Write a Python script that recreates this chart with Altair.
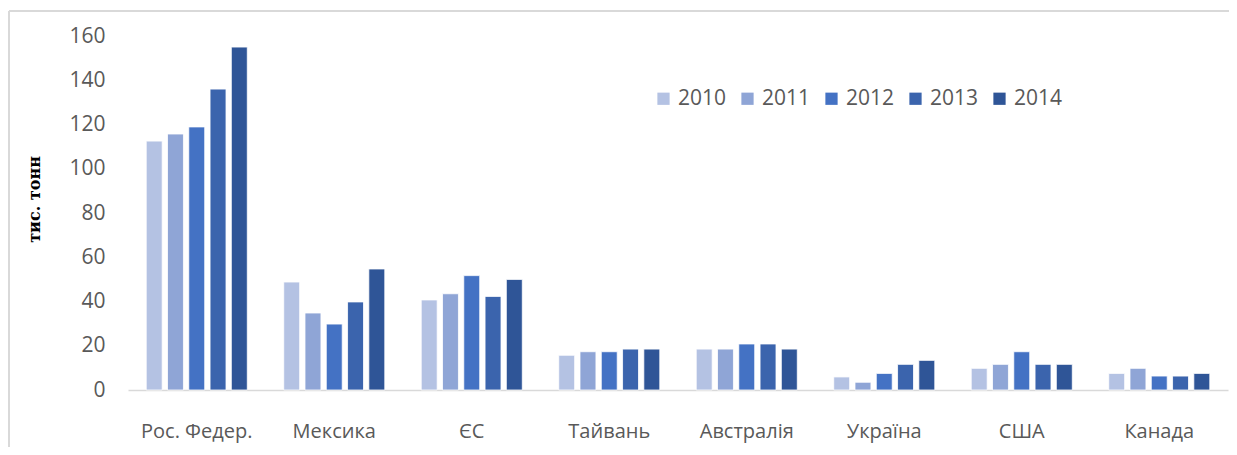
import altair as alt
import pandas as pd

countries = ["Рос. Федер.", "Мексика", "ЄС", "Тайвань", "Австралія", "Україна", "США", "Канада"]
years = ["2010", "2011", "2012", "2013", "2014"]
v2010 = [112.5, 48.8, 40.7, 15.7, 18.5, 5.9, 9.8, 7.5]
v2011 = [115.7, 34.8, 43.5, 17.3, 18.5, 3.5, 11.6, 9.8]
v2012 = [118.9, 29.8, 51.7, 17.3, 20.8, 7.5, 17.3, 6.3]
v2013 = [136.0, 39.8, 42.3, 18.5, 20.8, 11.6, 11.6, 6.3]
v2014 = [155.0, 54.7, 50.0, 18.5, 18.5, 13.4, 11.6, 7.5]
colors = ["#B4C2E3", "#8FA5D6", "#4472C4", "#3B64AD", "#2F5597"]

series = [v2010, v2011, v2012, v2013, v2014]
rows = []
for y, vals in zip(years, series):
    for c, v in zip(countries, vals):
        rows.append({"country": c, "year": y, "value": v})
df = pd.DataFrame(rows)

W, H = 1100, 354

bars = alt.Chart(df).mark_bar(stroke="white", strokeWidth=0.8).encode(
    x=alt.X("country:N", sort=countries, title=None,
            scale=alt.Scale(paddingInner=0.265, paddingOuter=0.1325),
            axis=alt.Axis(labelAngle=0, labelFontSize=20, labelColor="#595959",
                          labelFont="Open Sans", labelPadding=31,
                          ticks=False, domainColor="#D9D9D9", domainWidth=1.5)),
    xOffset=alt.XOffset("year:N", sort=years, scale=alt.Scale(paddingInner=0.25, paddingOuter=0)),
    y=alt.Y("value:Q", scale=alt.Scale(domain=[0, 160], nice=False),
            axis=alt.Axis(values=[0, 20, 40, 60, 80, 100, 120, 140, 160],
                          labelFontSize=21, labelColor="#595959", labelFont="Open Sans",
                          labelPadding=23, ticks=False, domain=False, grid=False,
                          title="тис. тонн", titleFont="DejaVu Serif", titleFontSize=16,
                          titleFontWeight="bold", titleColor="#000000",
                          titleX=-86, titleY=163)),
    color=alt.Color("year:N", sort=years,
                    scale=alt.Scale(domain=years, range=colors),
                    legend=alt.Legend(title=None, orient="none", direction="horizontal",
                                      legendX=525, legendY=52, symbolType="square",
                                      symbolSize=150, symbolStrokeWidth=0,
                                      labelFontSize=21, labelColor="#595959",
                                      labelFont="Open Sans", columnPadding=10,
                                      labelOffset=4)),
)

frame_top = alt.Chart(df).mark_rule(color="#D9D9D9", strokeWidth=2).encode(
    x=alt.value(-119), x2=alt.value(W + 10), y=alt.value(-25)
)
frame_left = alt.Chart(df).mark_rule(color="#D9D9D9", strokeWidth=2).encode(
    x=alt.value(-119), y=alt.value(-25), y2=alt.value(H + 70)
)

chart = alt.layer(bars, frame_top, frame_left).properties(
    width=W, height=H,
    autosize=alt.AutoSizeParams(type="none"),
    padding={"left": 120, "top": 28, "right": 1, "bottom": 57},
).configure_view(stroke=None)

chart.save("out.html", embed_options={"renderer": "svg", "actions": False})
